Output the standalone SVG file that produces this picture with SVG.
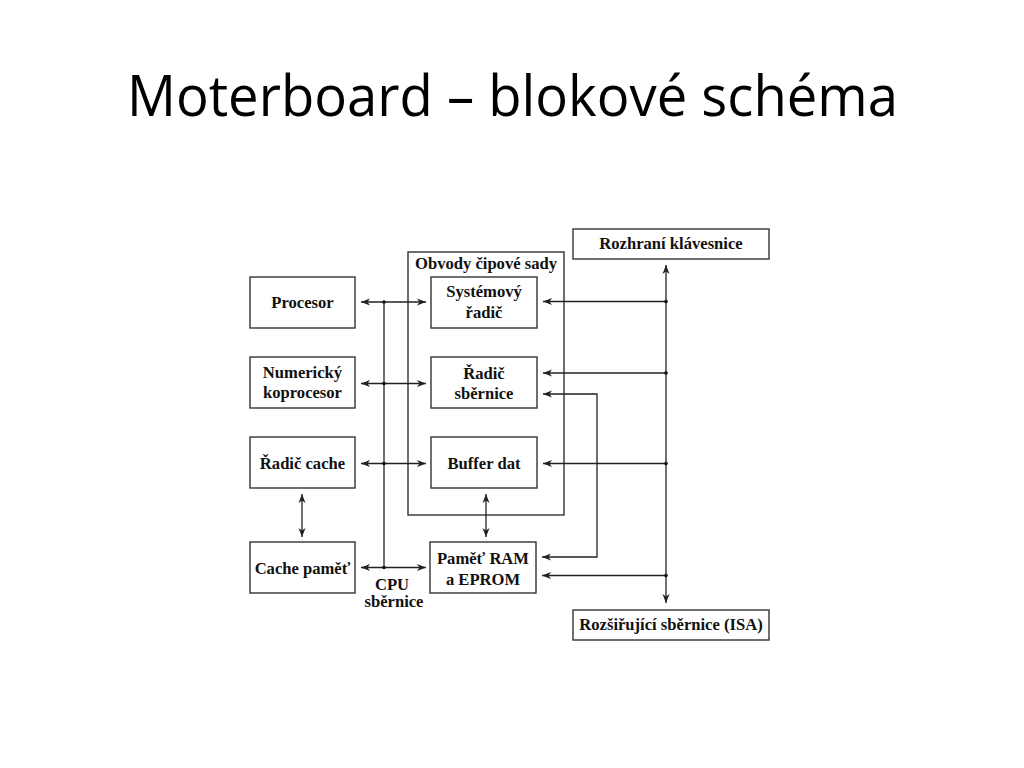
<svg xmlns="http://www.w3.org/2000/svg" width="1024" height="768" viewBox="0 0 1024 768">
<style>
.box{fill:#fff;stroke:#333;stroke-width:1.4}
.outer{fill:none;stroke:#333;stroke-width:1.4}
.lbl{font-family:"Liberation Serif","Times New Roman",serif;font-weight:bold;font-size:16.6px;fill:#111;text-anchor:middle}
.ln{fill:none;stroke:#222;stroke-width:1.3}
.dot{fill:#111}
.title{font-family:"Open Sans","Liberation Sans",sans-serif;font-size:57px;fill:#000}
</style>
<defs>
<marker id="ah" viewBox="-10 -4 11 8" markerWidth="11" markerHeight="8" refX="0" refY="0" orient="auto-start-reverse" markerUnits="userSpaceOnUse">
<path d="M0,0 L-9,-3.5 L-6.5,0 L-9,3.5 z" fill="#222"/>
</marker>
</defs>
<rect width="1024" height="768" fill="#fff"/>
<text class="title" x="127" y="116" textLength="771" lengthAdjust="spacingAndGlyphs">Moterboard – blokové schéma</text>

<g id="chipset">
<rect class="outer" x="408" y="252" width="156" height="263"/>
<text class="lbl" x="486" y="269">Obvody čipové sady</text>
</g>
<g id="procesor"><rect class="box" x="250" y="277" width="105" height="51"/><text class="lbl" x="302.5" y="308">Procesor</text></g>
<g id="koprocesor"><rect class="box" x="250" y="357" width="105" height="51"/><text class="lbl" x="302.5" y="378">Numerický</text><text class="lbl" x="302.5" y="398">koprocesor</text></g>
<g id="radic-cache"><rect class="box" x="250" y="437" width="105" height="51"/><text class="lbl" x="302.5" y="469">Řadič cache</text></g>
<g id="cache-pamet"><rect class="box" x="250" y="542" width="105" height="51"/><text class="lbl" x="302.5" y="574">Cache paměť</text></g>
<g id="systemovy-radic"><rect class="box" x="431" y="277" width="106" height="51"/><text class="lbl" x="484" y="297">Systémový</text><text class="lbl" x="484" y="318">řadič</text></g>
<g id="radic-sbernice"><rect class="box" x="431" y="357" width="106" height="51"/><text class="lbl" x="484" y="379">Řadič</text><text class="lbl" x="484" y="399">sběrnice</text></g>
<g id="buffer-dat"><rect class="box" x="431" y="437" width="106" height="51"/><text class="lbl" x="484" y="469">Buffer dat</text></g>
<g id="ram"><rect class="box" x="430" y="542" width="106" height="51"/><text class="lbl" x="483" y="564">Paměť RAM</text><text class="lbl" x="483" y="585">a EPROM</text></g>
<g id="klavesnice"><rect class="box" x="573" y="229" width="196" height="30"/><text class="lbl" x="671" y="249">Rozhraní klávesnice</text></g>
<g id="isa"><rect class="box" x="573" y="610" width="196" height="30"/><text class="lbl" x="671" y="630">Rozšiřující sběrnice (ISA)</text></g>
<g id="cpu-label"><text class="lbl" x="392" y="590">CPU</text><text class="lbl" x="394" y="607">sběrnice</text></g>

<g id="connectors">
<line class="ln" x1="384" y1="302" x2="384" y2="568"/>
<line class="ln" x1="361" y1="302" x2="426" y2="302" marker-start="url(#ah)" marker-end="url(#ah)"/>
<line class="ln" x1="361" y1="383.5" x2="426" y2="383.5" marker-start="url(#ah)" marker-end="url(#ah)"/>
<line class="ln" x1="361" y1="463.5" x2="426" y2="463.5" marker-start="url(#ah)" marker-end="url(#ah)"/>
<line class="ln" x1="361" y1="567.5" x2="426" y2="567.5" marker-start="url(#ah)" marker-end="url(#ah)"/>
<circle class="dot" cx="384" cy="302" r="1.8"/>
<circle class="dot" cx="384" cy="383.5" r="1.8"/>
<circle class="dot" cx="384" cy="463.5" r="1.8"/>
<circle class="dot" cx="384" cy="567.5" r="1.8"/>
<line class="ln" x1="302" y1="494" x2="302" y2="537" marker-start="url(#ah)" marker-end="url(#ah)"/>
<line class="ln" x1="486" y1="494" x2="486" y2="537" marker-start="url(#ah)" marker-end="url(#ah)"/>
<line class="ln" x1="666" y1="265" x2="666" y2="603" marker-start="url(#ah)" marker-end="url(#ah)"/>
<line class="ln" x1="666" y1="301.5" x2="543" y2="301.5" marker-end="url(#ah)"/>
<line class="ln" x1="666" y1="373" x2="543" y2="373" marker-end="url(#ah)"/>
<line class="ln" x1="666" y1="463.5" x2="543" y2="463.5" marker-end="url(#ah)"/>
<line class="ln" x1="666" y1="575.5" x2="542" y2="575.5" marker-end="url(#ah)"/>
<circle class="dot" cx="666" cy="301.5" r="1.8"/>
<circle class="dot" cx="666" cy="373" r="1.8"/>
<circle class="dot" cx="666" cy="463.5" r="1.8"/>
<circle class="dot" cx="666" cy="575.5" r="1.8"/>
<polyline class="ln" points="543,394 597,394 597,557 542,557" marker-start="url(#ah)" marker-end="url(#ah)"/>
</g>
</svg>
